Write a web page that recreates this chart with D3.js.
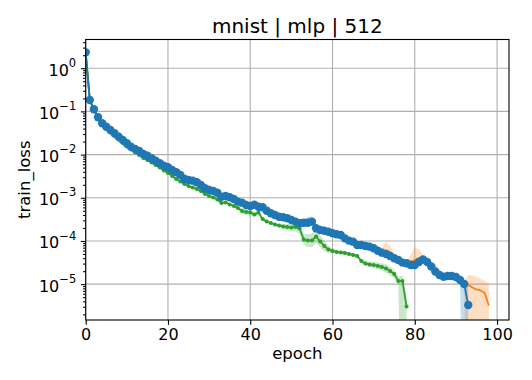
<!DOCTYPE html>
<html>
<head>
<meta charset="utf-8">
<script src="https://cdn.jsdelivr.net/npm/d3@7"></script>
<style>
  body { margin: 0; background: #fff; }
  text { font-family: "DejaVu Sans", sans-serif; fill: #000; }
</style>
</head>
<body>
<script>
// train loss per epoch (index = epoch)
const blueLoss = [2.33, 0.184, 0.112, 0.073, 0.0531, 0.0443, 0.0371, 0.0311, 0.0259, 0.0218,
  0.0183, 0.0152, 0.0135, 0.0121, 0.0103, 0.00944, 0.0082, 0.00723, 0.0063, 0.00553,
  0.00508, 0.0044, 0.00389, 0.00337, 0.00272, 0.00258, 0.00249, 0.00229, 0.00198, 0.00166,
  0.00152, 0.00144, 0.00131, 0.00106, 0.0011, 0.00103, 9.38e-4, 8.13e-4, 7.71e-4, 6.81e-4,
  6.46e-4, 6.92e-4, 6.22e-4, 6.03e-4, 5.02e-4, 4.38e-4, 4.0e-4, 3.65e-4, 3.54e-4, 3.35e-4,
  3.06e-4, 2.8e-4, 2.57e-4, 2.65e-4, 2.65e-4, 2.8e-4, 1.97e-4, 1.8e-4, 1.73e-4, 1.64e-4,
  1.51e-4, 1.43e-4, 1.38e-4, 1.15e-4, 1.02e-4, 9.64e-5, 8.07e-5, 8.07e-5, 7.66e-5, 7.38e-5,
  6.78e-5, 5.96e-5, 5.36e-5, 5.0e-5, 4.5e-5, 3.98e-5, 3.63e-5, 3.15e-5, 3.05e-5, 2.78e-5,
  2.78e-5, 3.27e-5, 3.73e-5, 3.27e-5, 2.57e-5, 1.97e-5, 1.63e-5, 1.49e-5, 1.55e-5, 1.55e-5,
  1.47e-5, 1.25e-5, 1.01e-5, 3.3e-6];

const orangeLoss = [2.33, 0.184, 0.112, 0.073, 0.0531, 0.0443, 0.0371, 0.0311, 0.0259, 0.0218,
  0.0183, 0.0152, 0.0135, 0.0121, 0.0103, 0.00944, 0.0082, 0.00723, 0.0063, 0.00553,
  0.00508, 0.0044, 0.00389, 0.00337, 0.00272, 0.00258, 0.00249, 0.00229, 0.00198, 0.00166,
  0.00152, 0.00144, 0.00131, 0.00106, 0.0011, 0.00103, 9.38e-4, 8.13e-4, 7.71e-4, 6.81e-4,
  6.46e-4, 6.92e-4, 6.22e-4, 6.03e-4, 5.02e-4, 4.38e-4, 4.0e-4, 3.65e-4, 3.54e-4, 3.35e-4,
  3.06e-4, 2.8e-4, 2.57e-4, 2.65e-4, 2.65e-4, 2.8e-4, 1.97e-4, 1.8e-4, 1.73e-4, 1.64e-4,
  1.51e-4, 1.43e-4, 1.38e-4, 1.15e-4, 1.02e-4, 9.64e-5, 8.07e-5, 8.07e-5, 7.66e-5, 7.38e-5,
  6.78e-5, 5.96e-5, 5.5e-5, 6.03e-5, 5.56e-5, 4.2e-5, 3.7e-5, 3.2e-5, 3.1e-5, 3.35e-5,
  3.63e-5, 4.04e-5, 3.8e-5, 3.3e-5, 2.6e-5, 2.0e-5, 1.65e-5, 1.5e-5, 1.55e-5, 1.55e-5,
  1.48e-5, 1.27e-5, 1.07e-5, 9.58e-6, 8.39e-6, 7.53e-6, 7.14e-6, 6.25e-6, 3.21e-6];

const greenLoss = [2.33, 0.179, 0.108, 0.0685, 0.0484, 0.0392, 0.0325, 0.027, 0.0224, 0.0186,
  0.0154, 0.0131, 0.0112, 0.00979, 0.00834, 0.0075, 0.00656, 0.00574, 0.00502, 0.00429,
  0.00375, 0.0032, 0.00272, 0.00238, 0.00208, 0.00187, 0.00173, 0.0016, 0.00144, 0.00122,
  0.0011, 0.00102, 9.14e-4, 7.59e-4, 7.78e-4, 7.0e-4, 6.46e-4, 5.81e-4, 4.94e-4, 4.69e-4,
  4.57e-4, 4.1e-4, 4.57e-4, 3.23e-4, 2.82e-4, 2.61e-4, 2.41e-4, 2.29e-4, 2.17e-4, 2.11e-4,
  2.05e-4, 2.11e-4, 1.95e-4, 1.08e-4, 1.03e-4, 1.03e-4, 1.27e-4, 9.73e-5, 7.66e-5, 6.35e-5,
  5.87e-5, 5.56e-5, 5.42e-5, 5.27e-5, 5.0e-5, 4.74e-5, 4.5e-5, 3.44e-5, 3.01e-5, 2.86e-5,
  2.78e-5, 2.64e-5, 2.5e-5, 2.31e-5, 2.02e-5, 1.72e-5, 1.19e-5, 1.19e-5, 3.05e-6];

// spread of the shaded band above / below each point, in decades
const blueUp = [0.02, 0.02, 0.02, 0.02, 0.02, 0.02, 0.02, 0.02, 0.02, 0.02,
  0.02, 0.02, 0.02, 0.02, 0.02, 0.02, 0.02, 0.02, 0.02, 0.02,
  0.02, 0.02, 0.02, 0.02, 0.02, 0.02, 0.02, 0.02, 0.02, 0.02,
  0.02, 0.02, 0.02, 0.02, 0.02, 0.02, 0.02, 0.02, 0.02, 0.02,
  0.02, 0.02, 0.02, 0.02, 0.02, 0.02, 0.02, 0.02, 0.02, 0.02,
  0.02, 0.02, 0.03, 0.06, 0.14, 0.12, 0.04, 0.02, 0.02, 0.02,
  0.02, 0.02, 0.02, 0.02, 0.02, 0.02, 0.02, 0.02, 0.02, 0.02,
  0.02, 0.02, 0.03, 0.05, 0.05, 0.03, 0.02, 0.02, 0.02, 0.02,
  0.03, 0.04, 0.04, 0.03, 0.02, 0.02, 0.02, 0.02, 0.02, 0.02,
  0.02, 0.02, 0.03, 0.41];
const blueDown = [0.02, 0.02, 0.02, 0.02, 0.02, 0.02, 0.02, 0.02, 0.02, 0.02,
  0.02, 0.02, 0.02, 0.02, 0.02, 0.02, 0.02, 0.02, 0.02, 0.02,
  0.02, 0.02, 0.02, 0.02, 0.02, 0.02, 0.02, 0.02, 0.02, 0.02,
  0.02, 0.02, 0.02, 0.02, 0.02, 0.02, 0.02, 0.02, 0.02, 0.02,
  0.02, 0.02, 0.02, 0.02, 0.02, 0.02, 0.02, 0.02, 0.02, 0.02,
  0.02, 0.02, 0.02, 0.02, 0.02, 0.02, 0.02, 0.02, 0.02, 0.02,
  0.02, 0.02, 0.02, 0.02, 0.02, 0.02, 0.02, 0.02, 0.02, 0.02,
  0.02, 0.02, 0.02, 0.02, 0.02, 0.02, 0.02, 0.02, 0.02, 0.02,
  0.02, 0.02, 0.02, 0.02, 0.03, 0.05, 0.07, 0.08, 0.08, 0.07,
  0.06, 0.05, 5, 5];

const orangeUp = [0.03, 0.03, 0.03, 0.03, 0.03, 0.03, 0.03, 0.03, 0.03, 0.03,
  0.03, 0.03, 0.03, 0.03, 0.03, 0.03, 0.03, 0.03, 0.03, 0.03,
  0.03, 0.03, 0.03, 0.06, 0.14, 0.1, 0.04, 0.03, 0.03, 0.03,
  0.03, 0.03, 0.03, 0.03, 0.03, 0.03, 0.06, 0.07, 0.05, 0.03,
  0.03, 0.03, 0.03, 0.03, 0.05, 0.05, 0.03, 0.03, 0.03, 0.03,
  0.03, 0.03, 0.03, 0.03, 0.03, 0.03, 0.03, 0.03, 0.03, 0.03,
  0.06, 0.06, 0.05, 0.03, 0.03, 0.03, 0.03, 0.03, 0.03, 0.03,
  0.03, 0.03, 0.1, 0.2, 0.15, 0.08, 0.04, 0.04, 0.04, 0.15,
  0.3, 0.2, 0.1, 0.06, 0.1, 0.15, 0.1, 0.04, 0.04, 0.04,
  0.04, 0.04, 0.05, 0.23, 0.28, 0.29, 0.27, 0.28, 0.51];
const orangeDown = [0.03, 0.03, 0.03, 0.03, 0.03, 0.03, 0.03, 0.03, 0.03, 0.03,
  0.03, 0.03, 0.03, 0.03, 0.03, 0.03, 0.03, 0.03, 0.03, 0.03,
  0.03, 0.03, 0.03, 0.03, 0.03, 0.03, 0.03, 0.03, 0.03, 0.03,
  0.03, 0.03, 0.03, 0.03, 0.03, 0.03, 0.03, 0.03, 0.03, 0.03,
  0.03, 0.03, 0.03, 0.03, 0.03, 0.03, 0.03, 0.03, 0.03, 0.03,
  0.03, 0.03, 0.03, 0.03, 0.03, 0.03, 0.03, 0.03, 0.03, 0.03,
  0.03, 0.03, 0.03, 0.03, 0.03, 0.03, 0.03, 0.03, 0.03, 0.03,
  0.03, 0.03, 0.06, 0.06, 0.06, 0.06, 0.03, 0.03, 0.03, 0.06,
  0.06, 0.06, 0.03, 0.03, 0.03, 0.03, 0.03, 0.03, 0.03, 0.03,
  0.03, 0.03, 0.05, 5, 5, 5, 5, 5, 5];

const greenUp = [0.03, 0.03, 0.03, 0.03, 0.03, 0.03, 0.03, 0.03, 0.03, 0.03,
  0.03, 0.03, 0.03, 0.03, 0.03, 0.03, 0.03, 0.03, 0.03, 0.03,
  0.03, 0.03, 0.03, 0.03, 0.03, 0.03, 0.03, 0.03, 0.03, 0.03,
  0.03, 0.03, 0.03, 0.03, 0.03, 0.03, 0.03, 0.05, 0.07, 0.07,
  0.06, 0.05, 0.04, 0.04, 0.04, 0.04, 0.04, 0.04, 0.06, 0.07,
  0.08, 0.1, 0.12, 0.12, 0.15, 0.16, 0.15, 0.14, 0.12, 0.08,
  0.05, 0.04, 0.04, 0.04, 0.04, 0.04, 0.04, 0.06, 0.06, 0.07,
  0.07, 0.08, 0.08, 0.1, 0.1, 0.1, 0.1, 0.12, 0.2];
const greenDown = [0.03, 0.03, 0.03, 0.03, 0.03, 0.03, 0.03, 0.03, 0.03, 0.03,
  0.03, 0.03, 0.03, 0.03, 0.03, 0.03, 0.03, 0.03, 0.03, 0.03,
  0.03, 0.03, 0.03, 0.03, 0.03, 0.03, 0.03, 0.03, 0.03, 0.03,
  0.03, 0.03, 0.03, 0.03, 0.03, 0.03, 0.03, 0.05, 0.07, 0.07,
  0.06, 0.05, 0.04, 0.04, 0.04, 0.04, 0.04, 0.04, 0.06, 0.07,
  0.08, 0.1, 0.12, 0.12, 0.15, 0.16, 0.15, 0.14, 0.12, 0.08,
  0.05, 0.04, 0.04, 0.04, 0.04, 0.04, 0.04, 0.06, 0.06, 0.07,
  0.07, 0.08, 0.08, 0.1, 0.1, 0.1, 0.1, 5, 5];

const xTicks = [0, 20, 40, 60, 80, 100];
const yTicks = [1e0, 1e-1, 1e-2, 1e-3, 1e-4, 1e-5];
const yTickExp = ["0", "\u22121", "\u22122", "\u22123", "\u22124", "\u22125"];
const title = "mnist | mlp | 512";

// plot box
const W = 532, H = 380;
const boxL = 85.7, boxR = 509, boxT = 39.5, boxB = 320;

const svg = d3.select("body").append("svg")
    .attr("width", W).attr("height", H);

const x = d3.scaleLinear().domain([0, 102.9]).range([boxL, boxR]);
const y = d3.scaleLog().domain([1.48e-6, 4.62]).range([boxB, boxT]);

svg.append("defs").append("clipPath").attr("id", "plot")
  .append("rect")
    .attr("x", boxL).attr("y", boxT)
    .attr("width", boxR - boxL).attr("height", boxB - boxT);

// grid
const grid = svg.append("g").attr("stroke", "#b0b0b0").attr("stroke-width", 1.1);
grid.selectAll(".gx").data(xTicks).join("line")
    .attr("x1", d => x(d)).attr("x2", d => x(d))
    .attr("y1", boxT).attr("y2", boxB);
grid.selectAll(".gy").data(yTicks).join("line")
    .attr("x1", boxL).attr("x2", boxR)
    .attr("y1", d => y(d)).attr("y2", d => y(d));

const series = [
  {loss: orangeLoss, up: orangeUp, down: orangeDown, color: "#ff7f0e", r: 0},
  {loss: greenLoss, up: greenUp, down: greenDown, color: "#2ca02c", r: 2},
  {loss: blueLoss, up: blueUp, down: blueDown, color: "#1f77b4", r: 4.2}
];

const plot = svg.append("g").attr("clip-path", "url(#plot)");

const band = d3.area()
    .x((d, i) => x(i))
    .y0(d => y(d.v / Math.pow(10, d.dn)))
    .y1(d => y(d.v * Math.pow(10, d.up)));

series.forEach(s => {
  const pts = s.loss.map((v, i) => ({v: v, up: s.up[i], dn: s.down[i]}));
  plot.append("path")
      .datum(pts)
      .attr("fill", s.color)
      .attr("fill-opacity", 0.25)
      .attr("d", band);
});

const line = d3.line()
    .x((d, i) => x(i))
    .y(d => y(d));

series.forEach(s => {
  plot.append("path")
      .datum(s.loss)
      .attr("fill", "none")
      .attr("stroke", s.color)
      .attr("stroke-width", 1.8)
      .attr("stroke-linejoin", "round")
      .attr("d", line);
  if (s.r > 0) {
    plot.selectAll(null).data(s.loss).join("circle")
        .attr("cx", (d, i) => x(i))
        .attr("cy", d => y(d))
        .attr("r", s.r)
        .attr("fill", s.color);
  }
});

// axes
const xAxis = svg.append("g")
    .attr("transform", "translate(0," + boxB + ")")
    .call(d3.axisBottom(x).tickValues(xTicks).tickSize(4.8).tickFormat(d3.format("d")));
xAxis.select(".domain").remove();
xAxis.selectAll("text").attr("font-size", 16).attr("dy", null).attr("y", 19.8);

const minor = y.ticks().filter(d => !yTicks.includes(d));
const yMinor = svg.append("g")
    .attr("transform", "translate(" + boxL + ",0)")
    .call(d3.axisLeft(y).tickValues(minor).tickSize(2.6).tickFormat(""));
yMinor.select(".domain").remove();

const yAxis = svg.append("g")
    .attr("transform", "translate(" + boxL + ",0)")
    .call(d3.axisLeft(y).tickValues(yTicks).tickSize(4.8).tickFormat(""));
yAxis.select(".domain").remove();
yAxis.selectAll(".tick text").remove();
yAxis.selectAll(".tick").each(function(d, i) {
  const t = d3.select(this).append("text")
      .attr("x", -9.5).attr("y", 7)
      .attr("text-anchor", "end")
      .attr("font-size", 16);
  t.append("tspan").text("10");
  t.append("tspan").attr("dy", -8.8).attr("font-size", 11.5).text(yTickExp[i]);
});

svg.selectAll(".tick line").attr("stroke", "#000").attr("stroke-width", 1.1);

// frame
svg.append("rect")
    .attr("x", boxL).attr("y", boxT)
    .attr("width", boxR - boxL).attr("height", boxB - boxT)
    .attr("fill", "none").attr("stroke", "#000").attr("stroke-width", 1.1);

// labels
svg.append("text")
    .attr("x", (boxL + boxR) / 2).attr("y", 33)
    .attr("text-anchor", "middle").attr("font-size", 20)
    .text(title);
svg.append("text")
    .attr("x", (boxL + boxR) / 2).attr("y", 359)
    .attr("text-anchor", "middle").attr("font-size", 16.5)
    .text("epoch");
svg.append("text")
    .attr("transform", "translate(29.5," + (boxT + boxB) / 2 + ") rotate(-90)")
    .attr("text-anchor", "middle").attr("font-size", 16.5)
    .text("train_loss");
</script>
</body>
</html>
